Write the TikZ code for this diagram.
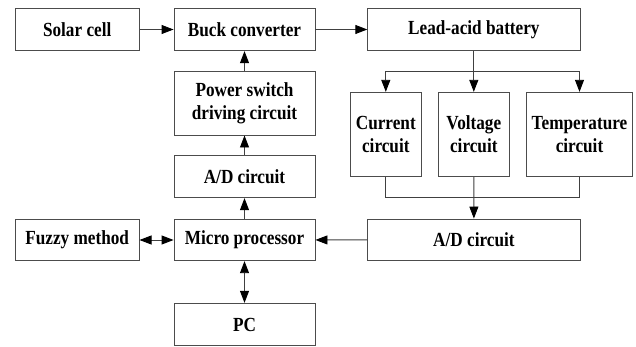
\documentclass[tikz,border=0pt]{standalone}
\usepackage{fontspec}
\setmainfont{Liberation Serif}
\newfontfamily\blkfont[FakeStretch=0.86]{Liberation Serif}
\usetikzlibrary{arrows.meta}
\begin{document}
\begin{tikzpicture}[x=1pt,y=-1pt,
  blk/.style={draw=black!70,line width=0.9pt,inner sep=0pt,align=center,
    font=\blkfont\fontsize{20}{23}\selectfont\bfseries},
  wire/.style={draw=black!75,line width=0.9pt},
  tip/.tip={Triangle[length=12pt,width=9pt,fill=black,color=black]},
  arr/.style={wire,-tip},
  darr/.style={wire,tip-tip}]
\useasboundingbox (0,0) rectangle (636,347);
\fill[white] (0,0) rectangle (636,347);
\node[blk,minimum width=123.7pt,minimum height=42.4pt] (solar) at (77.2,29.5) {Solar cell};
\node[blk,minimum width=141pt,minimum height=42.4pt] (buck) at (244.5,29.5) {Buck converter};
\node[blk,minimum width=212.3pt,minimum height=42.4pt] (bat) at (473.9,29.5) {Lead-acid battery};
\node[blk,minimum width=141pt,minimum height=63.7pt] (psw) at (244.5,103.2) {Power switch\\driving circuit};
\node[blk,minimum width=141pt,minimum height=42pt] (adl) at (244.5,176.7) {A/D circuit};
\node[blk,minimum width=141pt,minimum height=41.4pt] (mp) at (244.5,240) {Micro processor};
\node[blk,minimum width=123.7pt,minimum height=41.4pt] (fuzzy) at (77.2,240) {Fuzzy method};
\node[blk,minimum width=141pt,minimum height=42.4pt] (pc) at (244.5,324.5) {PC};
\node[blk,minimum width=71pt,minimum height=84.4pt] (cur) at (385.8,134.5) {Current\\circuit};
\node[blk,minimum width=71pt,minimum height=84.4pt] (vol) at (473.8,134.5) {Voltage\\circuit};
\node[blk,minimum width=105.6pt,minimum height=84.4pt] (tmp) at (579.5,134.5) {Temperature\\circuit};
\node[blk,minimum width=212.3pt,minimum height=41.7pt] (adr) at (473.9,239.85) {A/D circuit};
\coordinate (split) at (473.8,71.3);
\coordinate (merge) at (473.8,197.3);
\draw[arr] (solar) -- (buck);
\draw[arr] (buck) -- (bat);
\draw[arr] (psw) -- (buck);
\draw[arr] (adl) -- (psw);
\draw[arr] (mp) -- (adl);
\draw[darr] (fuzzy) -- (mp);
\draw[darr] (mp) -- (pc);
\draw[arr] (adr) -- (mp);
\draw[wire] (bat.south -| split) -- (split);
\draw[arr] (split) -| (cur.north);
\draw[arr] (split) -- (vol.north);
\draw[arr] (split) -| (tmp.north);
\draw[wire] (cur.south) |- (merge) -| (tmp.south);
\draw[arr] (vol.south) -- (adr.north);
\end{tikzpicture}
\end{document}
